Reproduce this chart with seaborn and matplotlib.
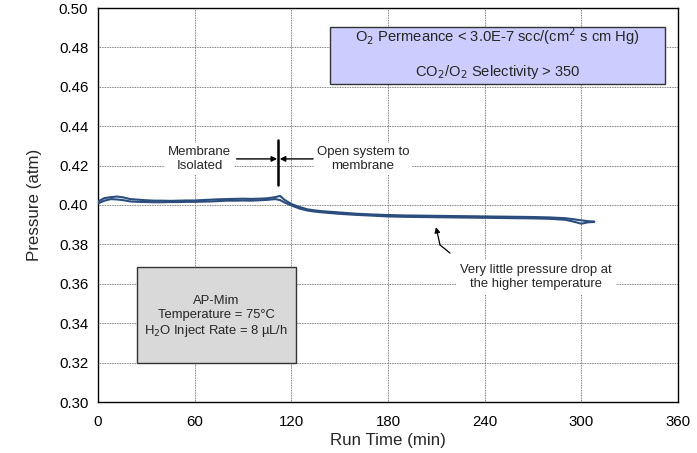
import matplotlib
matplotlib.use("Agg")
import matplotlib.pyplot as plt
from matplotlib.patches import Rectangle
import seaborn as sns
import pandas as pd

# Run time (min) and the two logged pressure traces (atm)
run_time = [0, 4, 8, 12, 16, 20, 25, 30, 35, 40, 45, 50, 55, 60, 65, 70, 75, 80,
            85, 90, 95, 100, 105, 110, 113, 116, 120, 125, 130, 135, 140, 150,
            160, 170, 180, 190, 200, 210, 220, 230, 240, 250, 260, 270, 280,
            290, 295, 300, 304, 308]
pressure_a = [0.4018, 0.4035, 0.4040, 0.4043, 0.4038, 0.4030, 0.4027, 0.4024,
              0.4022, 0.4022, 0.4021, 0.4022, 0.4023, 0.4023, 0.4025, 0.4027,
              0.4029, 0.4030, 0.4031, 0.4032, 0.4031, 0.4032, 0.4034, 0.4040,
              0.4046, 0.4025, 0.4005, 0.3990, 0.3978, 0.3972, 0.3968, 0.3962,
              0.3956, 0.3952, 0.3949, 0.3947, 0.3946, 0.3945, 0.3944, 0.3943,
              0.3942, 0.3941, 0.3940, 0.3939, 0.3937, 0.3933, 0.3928, 0.3922,
              0.3918, 0.3916]
pressure_b = [0.4008, 0.4022, 0.4030, 0.4028, 0.4024, 0.4018, 0.4016, 0.4015,
              0.4014, 0.4014, 0.4015, 0.4015, 0.4016, 0.4016, 0.4017, 0.4018,
              0.4020, 0.4022, 0.4022, 0.4023, 0.4022, 0.4024, 0.4026, 0.4030,
              0.4025, 0.4012, 0.3998, 0.3982, 0.3972, 0.3966, 0.3962, 0.3955,
              0.3950, 0.3946, 0.3942, 0.3940, 0.3939, 0.3938, 0.3937, 0.3936,
              0.3935, 0.3934, 0.3933, 0.3932, 0.3930, 0.3925, 0.3916, 0.3905,
              0.3912, 0.3914]

x_ticks = [0, 60, 120, 180, 240, 300, 360]
y_ticks = [0.30, 0.32, 0.34, 0.36, 0.38, 0.40, 0.42, 0.44, 0.46, 0.48, 0.50]

sns.set_theme(style="white")
plt.rcParams["font.family"] = ["Liberation Sans", "DejaVu Sans"]

fig = plt.figure(figsize=(6.97, 4.53), dpi=100)
ax = fig.add_axes([98 / 697, 1 - 402 / 453, 580 / 697, 394 / 453])

df = pd.DataFrame({"t": run_time * 2,
                   "p": pressure_a + pressure_b,
                   "trace": ["a"] * len(run_time) + ["b"] * len(run_time)})
line_color = "#2b4d7e"
sns.lineplot(data=df, x="t", y="p", units="trace", estimator=None,
             color=line_color, linewidth=1.5, ax=ax, legend=False, zorder=3)

ax.set_xlim(0, 360)
ax.set_ylim(0.30, 0.50)
ax.set_xticks(x_ticks)
ax.set_yticks(y_ticks)
ax.set_yticklabels([f"{v:.2f}" for v in y_ticks])
ax.tick_params(axis="both", labelsize=10.8, length=0, colors="black")
ax.tick_params(axis="x", pad=9)
ax.tick_params(axis="y", pad=7)
ax.grid(True, color="#555555", linestyle=(0, (1, 1)), linewidth=0.6)
for s in ax.spines.values():
    s.set_color("black")
    s.set_linewidth(1.0)
ax.set_xlabel("Run Time (min)", fontsize=12.2, labelpad=3)
ax.set_ylabel("Pressure (atm)", fontsize=12.2, labelpad=12)

# Performance box at the top
ax.add_patch(Rectangle((144, 0.4614), 208, 0.029, facecolor="#ccccff",
                       edgecolor="#333333", linewidth=1.0, zorder=4))
ax.text(248, 0.4859, "O$_2$ Permeance < 3.0E-7 scc/(cm$^2$ s cm Hg)",
        ha="center", va="center", fontsize=10.6, zorder=5)
ax.text(248, 0.4677, "CO$_2$/O$_2$ Selectivity > 350",
        ha="center", va="center", fontsize=10.6, zorder=5)

# Run conditions box
ax.add_patch(Rectangle((24, 0.3200), 99, 0.0487, facecolor="#d9d9d9",
                       edgecolor="#333333", linewidth=1.0, zorder=4))
ax.text(73.5, 0.3430,
        "AP-Mim\nTemperature = 75°C\nH$_2$O Inject Rate = 8 µL/h",
        ha="center", va="center", fontsize=9.4, linespacing=1.2, zorder=5)

# Valve switch marker
ax.plot([112, 112], [0.4103, 0.4330], color="black", linewidth=1.8, zorder=5)
ax.annotate("", xy=(111.2, 0.4234), xytext=(86, 0.4234),
            arrowprops=dict(arrowstyle="-|>", color="black", lw=1,
                            mutation_scale=8, shrinkA=0, shrinkB=0), zorder=5)
ax.annotate("", xy=(112.8, 0.4234), xytext=(133.5, 0.4234),
            arrowprops=dict(arrowstyle="-|>", color="black", lw=1,
                            mutation_scale=8, shrinkA=0, shrinkB=0), zorder=5)
ax.text(63, 0.4234, "Membrane\nIsolated", ha="center", va="center",
        fontsize=9.5, linespacing=1.25, zorder=5,
        bbox=dict(facecolor="white", edgecolor="none", pad=2))
ax.text(164.5, 0.4234, "Open system to\nmembrane", ha="center", va="center",
        fontsize=9.5, linespacing=1.25, zorder=5,
        bbox=dict(facecolor="white", edgecolor="none", pad=2))

# Callout for the high-temperature plateau
ax.plot([218.5, 212.3], [0.3756, 0.3797], color="black", linewidth=0.9, zorder=5)
ax.annotate("", xy=(209.8, 0.3888), xytext=(212.3, 0.3797),
            arrowprops=dict(arrowstyle="-|>", color="black", lw=0.9,
                            mutation_scale=8, shrinkA=0, shrinkB=0), zorder=5)
ax.text(272, 0.3633, "Very little pressure drop at\nthe higher temperature",
        ha="center", va="center", fontsize=9.4, linespacing=1.25, zorder=5,
        bbox=dict(facecolor="white", edgecolor="none", pad=3))

fig.savefig("out.png", dpi=100)
